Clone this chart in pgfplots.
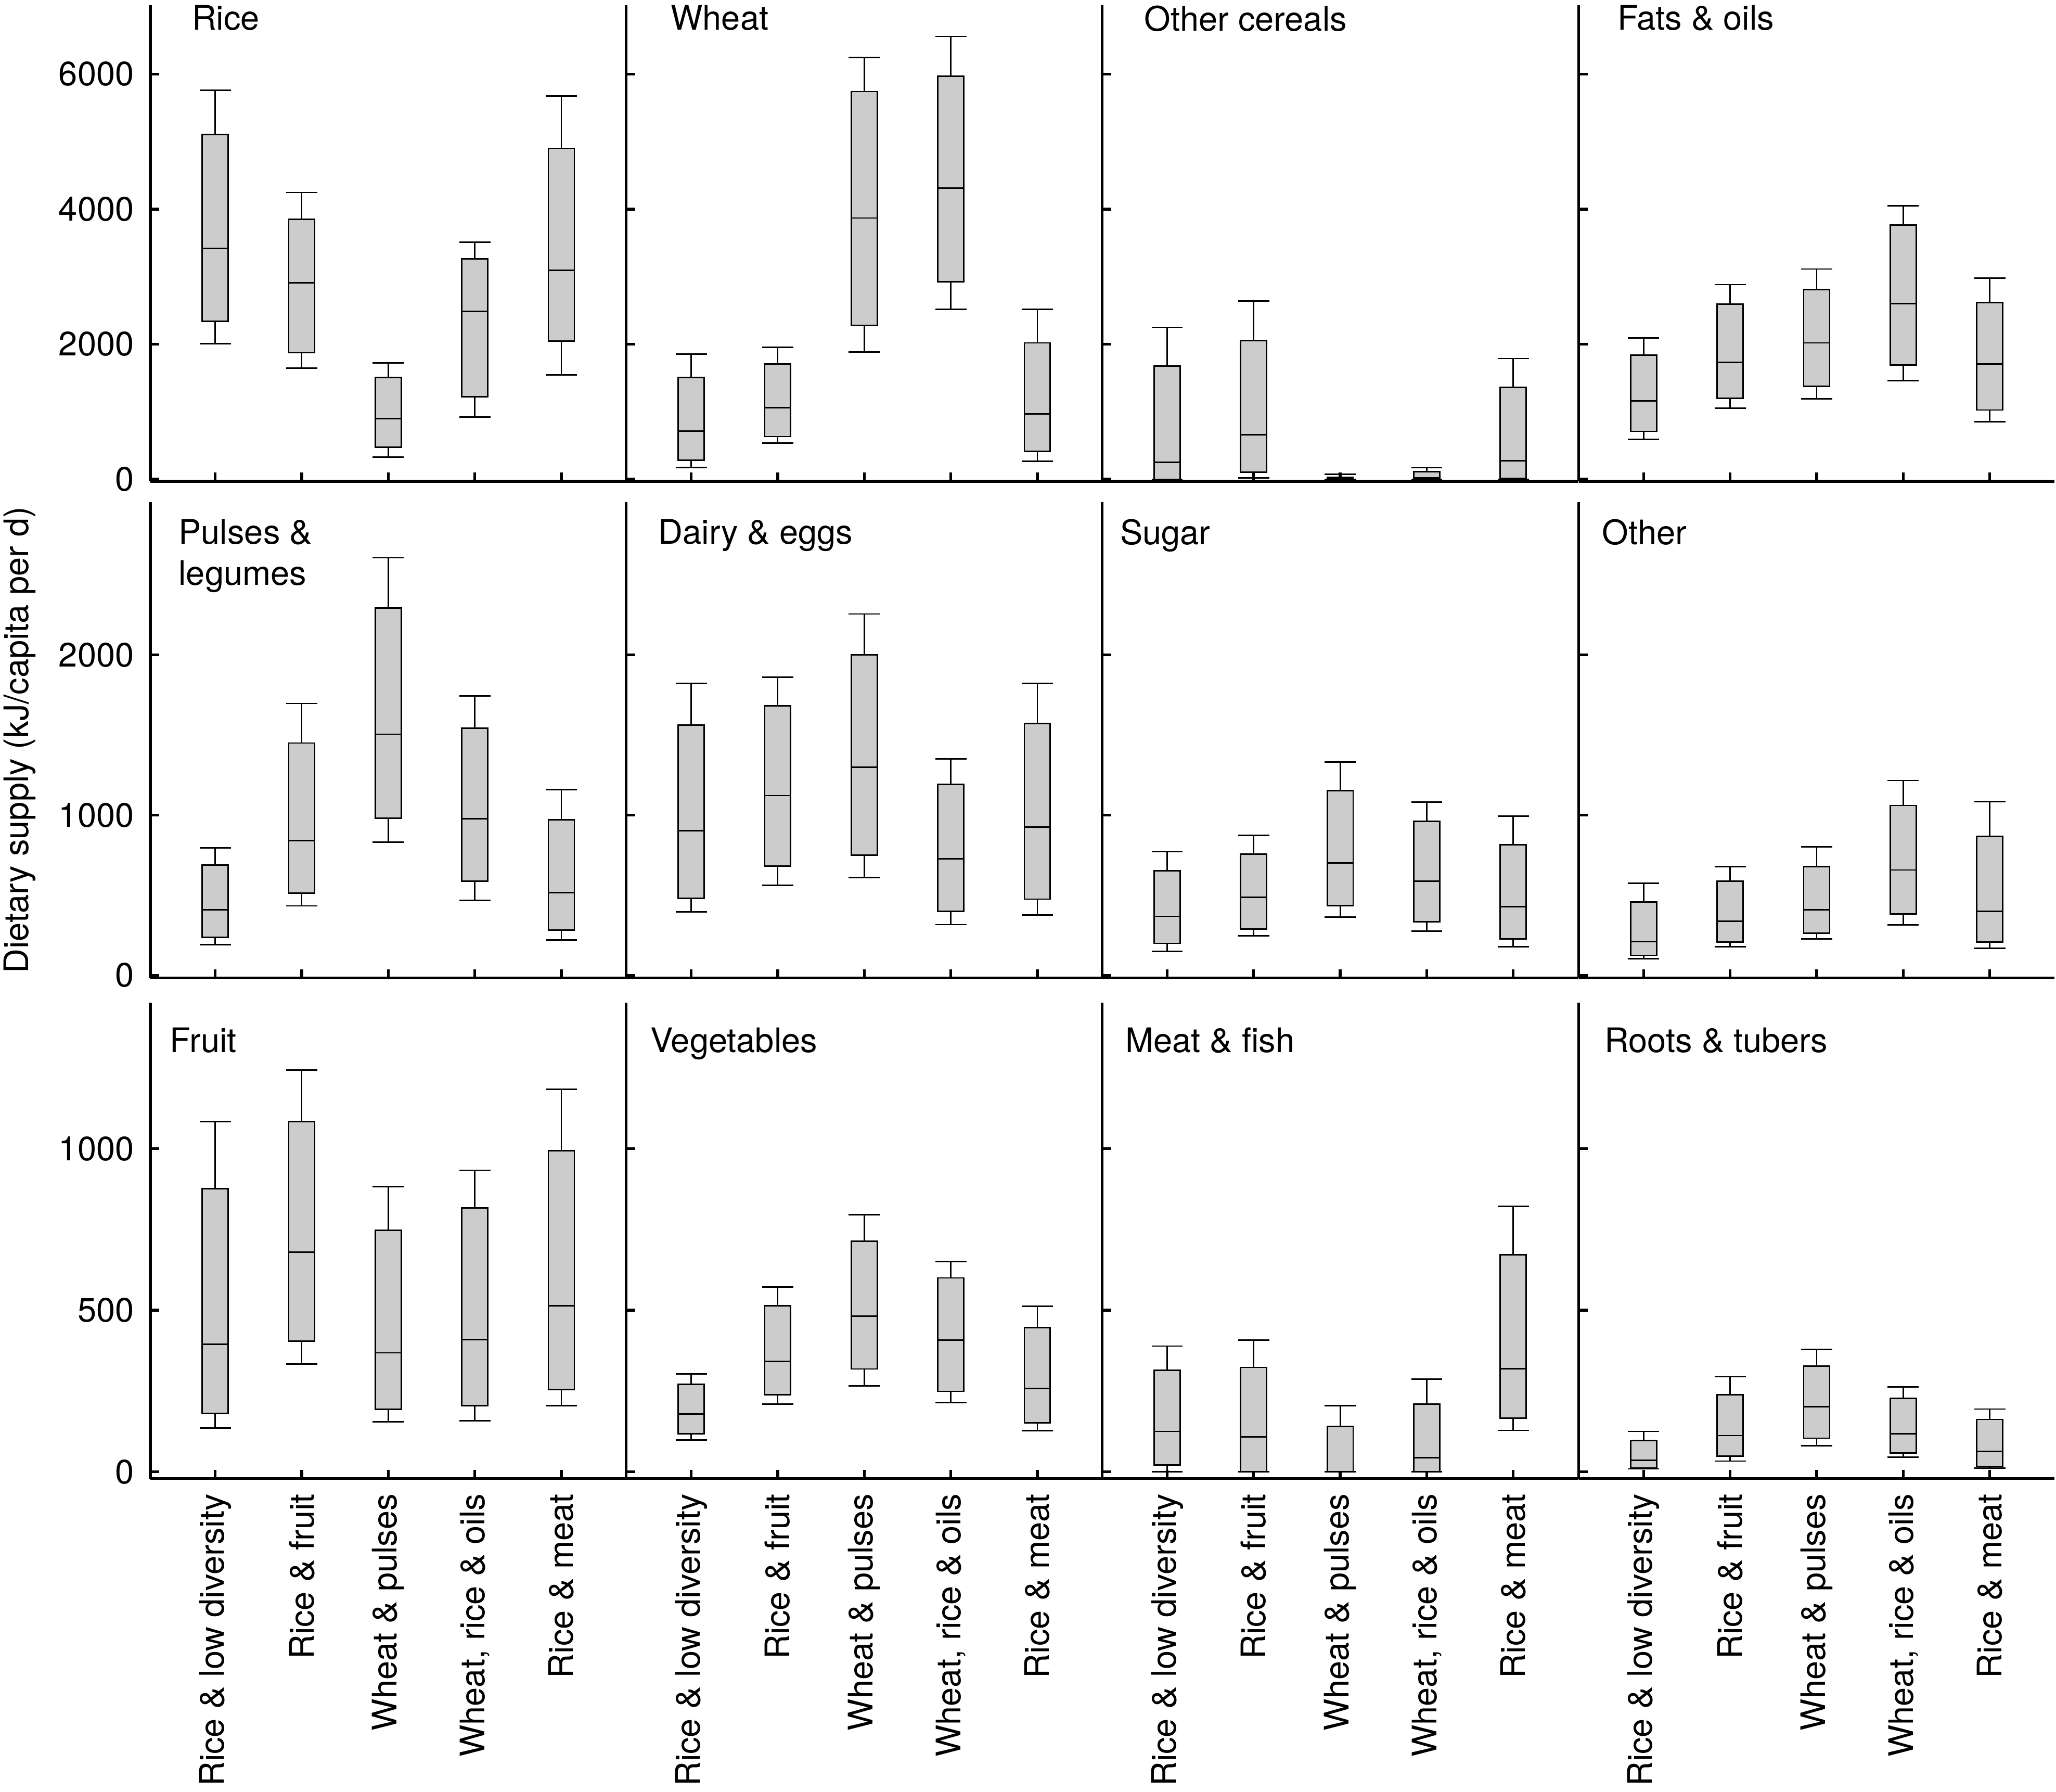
\documentclass[border=0pt]{standalone}
\usepackage{fontspec}
\setmainfont{TeX Gyre Heros}
\usepackage{pgfplots}
\pgfplotsset{compat=1.18}
\usepgfplotslibrary{statistics}
\definecolor{boxgray}{RGB}{204,204,204}
\newcommand{\fs}{\fontsize{9.25}{11.2}\selectfont}
\newcommand{\bx}[6]{\addplot[boxplot prepared={draw position=#1, lower whisker=#2, lower quartile=#3, median=#4, upper quartile=#5, upper whisker=#6}, draw=black, fill=boxgray, line width=0.4pt] coordinates {};}
\pgfplotsset{panel/.style={
  scale only axis, width=4.575cm, height=4.575cm, anchor=south west,
  xmin=0.25, xmax=5.75, xtick={1,2,3,4,5},
  axis x line*=bottom, axis y line*=left,
  every outer x axis line/.append style={-}, every outer y axis line/.append style={-},
  axis line style={line width=0.75pt, black},
  tick align=inside, major tick length=0.085cm,
  tick style={line width=0.75pt, black},
  xticklabels={}, yticklabels={},
  scaled y ticks=false,
  /pgf/number format/1000 sep={},
  /pgf/number format/assume math mode=true,
  tick label style={font=\fs},
  yticklabel style={anchor=east, inner sep=0pt, xshift=-0.15cm},
  xticklabel style={yshift=-0.14cm, rotate=90, anchor=east, inner sep=0pt},
  boxplot/draw direction=y, boxplot/box extend=0.3, boxplot/whisker extend=0.36,
  clip=false,
}}
\pgfplotsset{rowA/.style={panel, ymin=-30, ymax=7020, ytick={0,2000,4000,6000}},
             rowB/.style={panel, ymin=-18, ymax=2955, ytick={0,1000,2000}},
             rowC/.style={panel, ymin=-21, ymax=1452, ytick={0,500,1000}},
             xlabs/.style={xticklabels={Rice \& low diversity, Rice \& fruit, Wheat \& pulses, {Wheat, rice \& oils}, Rice \& meat}},
             ynums/.style={yticklabel={\pgfmathprintnumber{\tick}}}}
\begin{document}
\begin{tikzpicture}
\path (-1.445cm,-3.01cm) rectangle (18.315cm,14.21cm);
% ---------------- Row 1 ----------------
\begin{axis}[rowA, at={(0cm,9.585cm)}, ynums]
\bx{1}{2005}{2340}{3419}{5103}{5759}
\bx{2}{1645}{1872}{2911}{3847}{4246}
\bx{3}{330}{473}{897}{1507}{1724}
\bx{4}{921}{1222}{2483}{3266}{3507}
\bx{5}{1542}{2044}{3094}{4901}{5675}
\node[anchor=north west, inner sep=0pt, font=\fs] at (rel axis cs:0.086,1.001) {Rice};
\end{axis}
\begin{axis}[rowA, at={(4.575cm,9.585cm)}]
\bx{1}{175}{283}{712}{1505}{1854}
\bx{2}{538}{632}{1057}{1708}{1953}
\bx{3}{1882}{2274}{3868}{5741}{6245}
\bx{4}{2514}{2925}{4311}{5967}{6557}
\bx{5}{264}{410}{967}{2019}{2514}
\node[anchor=north west, inner sep=0pt, font=\fs] at (rel axis cs:0.092,1.001) {Wheat};
\end{axis}
\begin{axis}[rowA, at={(9.15cm,9.585cm)}]
\bx{1}{0}{0}{250}{1675}{2250}
\bx{2}{19}{104}{660}{2052}{2637}
\bx{3}{0}{5}{15}{30}{75}
\bx{4}{0}{10}{20}{113}{170}
\bx{5}{0}{14}{274}{1358}{1788}
\node[anchor=north west, inner sep=0pt, font=\fs] at (rel axis cs:0.087,1.001) {Other cereals};
\end{axis}
\begin{axis}[rowA, at={(13.73cm,9.585cm)}]
\bx{1}{590}{708}{1160}{1840}{2090}
\bx{2}{1052}{1198}{1731}{2594}{2882}
\bx{3}{1193}{1373}{2019}{2811}{3113}
\bx{4}{1458}{1693}{2599}{3764}{4052}
\bx{5}{849}{1024}{1708}{2613}{2976}
\node[anchor=north west, inner sep=0pt, font=\fs] at (rel axis cs:0.080,1.001) {Fats \& oils};
\end{axis}
% ---------------- Row 2 ----------------
\begin{axis}[rowB, at={(0cm,4.81cm)}, ynums]
\bx{1}{192}{236}{408}{687}{794}
\bx{2}{433}{512}{841}{1450}{1697}
\bx{3}{831}{980}{1505}{2294}{2607}
\bx{4}{468}{587}{978}{1542}{1744}
\bx{5}{221}{281}{517}{970}{1159}
\node[anchor=north west, inner sep=0pt, font=\fs, align=left] at (rel axis cs:0.058,0.965) {Pulses \&\\legumes};
\end{axis}
\begin{axis}[rowB, at={(4.575cm,4.81cm)}]
\bx{1}{396}{480}{903}{1562}{1821}
\bx{2}{560}{682}{1122}{1682}{1861}
\bx{3}{609}{749}{1299}{2000}{2256}
\bx{4}{316}{400}{726}{1192}{1351}
\bx{5}{376}{475}{925}{1572}{1821}
\node[anchor=north west, inner sep=0pt, font=\fs] at (rel axis cs:0.066,0.965) {Dairy \& eggs};
\end{axis}
\begin{axis}[rowB, at={(9.15cm,4.81cm)}]
\bx{1}{149}{199}{368}{652}{771}
\bx{2}{247}{288}{486}{757}{872}
\bx{3}{363}{435}{701}{1152}{1331}
\bx{4}{274}{334}{587}{960}{1082}
\bx{5}{177}{226}{428}{816}{993}
\node[anchor=north west, inner sep=0pt, font=\fs] at (rel axis cs:0.036,0.965) {Sugar};
\end{axis}
\begin{axis}[rowB, at={(13.73cm,4.81cm)}]
\bx{1}{104}{124}{211}{458}{575}
\bx{2}{179}{206}{336}{587}{677}
\bx{3}{226}{261}{408}{679}{801}
\bx{4}{313}{383}{657}{1060}{1216}
\bx{5}{167}{206}{400}{866}{1085}
\node[anchor=north west, inner sep=0pt, font=\fs] at (rel axis cs:0.048,0.965) {Other};
\end{axis}
% ---------------- Row 3 ----------------
\begin{axis}[rowC, at={(0cm,0cm)}, ynums, xlabs]
\bx{1}{136}{180}{394}{876}{1084}
\bx{2}{333}{404}{680}{1084}{1243}
\bx{3}{155}{193}{368}{747}{883}
\bx{4}{158}{204}{409}{817}{933}
\bx{5}{204}{255}{514}{994}{1183}
\node[anchor=north west, inner sep=0pt, font=\fs] at (rel axis cs:0.040,0.949) {Fruit};
\end{axis}
\begin{axis}[rowC, at={(4.575cm,0cm)}, xlabs]
\bx{1}{98}{118}{179}{270}{303}
\bx{2}{209}{238}{341}{514}{572}
\bx{3}{266}{318}{482}{713}{796}
\bx{4}{214}{249}{408}{600}{651}
\bx{5}{127}{151}{258}{446}{512}
\node[anchor=north west, inner sep=0pt, font=\fs] at (rel axis cs:0.049,0.949) {Vegetables};
\end{axis}
\begin{axis}[rowC, at={(9.15cm,0cm)}, xlabs]
\bx{1}{0}{21}{125}{314}{389}
\bx{2}{0}{0}{108}{323}{408}
\bx{3}{0}{0}{0}{140}{205}
\bx{4}{0}{0}{43}{210}{287}
\bx{5}{128}{166}{319}{672}{821}
\node[anchor=north west, inner sep=0pt, font=\fs] at (rel axis cs:0.047,0.949) {Meat \& fish};
\end{axis}
\begin{axis}[rowC, at={(13.73cm,0cm)}, xlabs]
\bx{1}{9}{11}{36}{97}{125}
\bx{2}{33}{49}{112}{239}{294}
\bx{3}{81}{104}{201}{327}{379}
\bx{4}{45}{58}{117}{227}{262}
\bx{5}{11}{17}{63}{162}{194}
\node[anchor=north west, inner sep=0pt, font=\fs] at (rel axis cs:0.053,0.949) {Roots \& tubers};
\end{axis}
\node[rotate=90, font=\fs, inner sep=0pt] at (-1.255cm,7.0975cm) {Dietary supply (kJ/capita per d)};
\end{tikzpicture}
\end{document}
